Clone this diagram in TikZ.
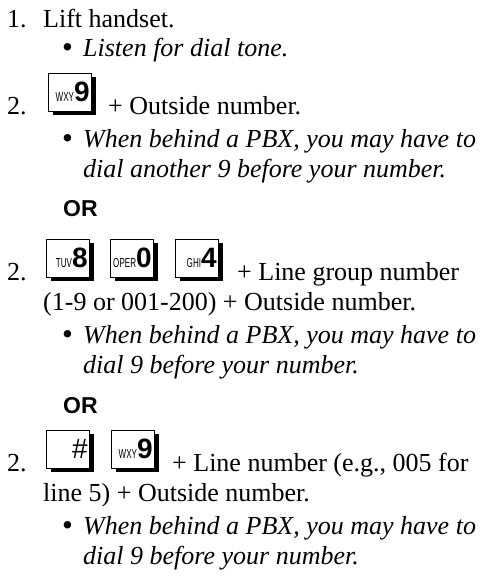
\documentclass[tikz,border=0pt]{standalone}
\usepackage{fontspec}
\setmainfont{Liberation Serif}
\newfontfamily\keyfont{Liberation Sans}
\newfontfamily\keytiny[FakeStretch=0.62]{Liberation Sans}
\usetikzlibrary{shadows}

\tikzset{
  txt/.style={anchor=base west, inner sep=0pt, font={\fontsize{26}{30}\selectfont}},
  note/.style={txt, font={\fontsize{26}{30}\selectfont\itshape}},
  dot/.style={anchor=base west, inner sep=0pt, yshift=-1.5pt, font={\fontsize{31}{31}\selectfont}},
  orword/.style={anchor=base west, inner sep=0pt, font={\keyfont\bfseries\fontsize{23}{26}\selectfont}},
  keycap/.style={draw, line width=1.3pt, fill=white, anchor=south west,
    minimum width=43pt, minimum height=38pt, inner sep=0pt, text width=39pt, align=right,
    drop shadow={shadow xshift=4pt, shadow yshift=-4pt, fill=black, opacity=1}},
}
\newcommand{\klet}[1]{{\keytiny\fontsize{13}{13}\selectfont #1}}
\newcommand{\kdig}[1]{{\keyfont\bfseries\fontsize{28}{28}\selectfont #1}}

\begin{document}
\begin{tikzpicture}[x=1pt,y=-1pt]
  \useasboundingbox (0,0) rectangle (489,579);
  % step 1
  \node[txt] (onenum) at (7,27) {1.};
  \node[txt] (onetxt) at (43,27) {Lift handset.};
  \node[dot] (onedot) at (62,56) {\textbullet};
  \node[note] (onenote) at (83,56) {Listen for dial tone.};
  % step 2, first way
  \node[txt] (anum) at (7,114) {2.};
  \node[keycap] (akey) at (48,112) {\klet{WXY}\kdig{9}};
  \node[txt] (atxt) at (108,114) {+ Outside number.};
  \node[dot] (adot) at (62,147) {\textbullet};
  \node[note] (anotea) at (83,147) {When behind a PBX, you may have to};
  \node[note] (anoteb) at (83,177) {dial another 9 before your number.};
  \node[orword] (ora) at (63,216) {OR};
  % step 2, second way
  \node[txt] (bnum) at (7,280) {2.};
  \node[keycap] (bkeya) at (46,278) {\klet{TUV}\kdig{8}};
  \node[keycap] (bkeyb) at (110,278) {\klet{OPER}\kdig{0}};
  \node[keycap] (bkeyc) at (175,278) {\klet{GHI}\kdig{4}};
  \node[txt] (btxta) at (237,280) {+ Line group number};
  \node[txt] (btxtb) at (43,310) {(1-9 or 001-200) + Outside number.};
  \node[dot] (bdot) at (62,343) {\textbullet};
  \node[note] (bnotea) at (83,343) {When behind a PBX, you may have to};
  \node[note] (bnoteb) at (83,373) {dial 9 before your number.};
  \node[orword] (orb) at (63,413) {OR};
  % step 2, third way
  \node[txt] (cnum) at (7,471) {2.};
  \node[keycap] (ckeya) at (46,469) {{\keyfont\fontsize{28}{28}\selectfont\#}};
  \node[keycap] (ckeyb) at (111,469) {\klet{WXY}\kdig{9}};
  \node[txt] (ctxta) at (172,471) {+ Line number (e.g., 005 for};
  \node[txt] (ctxtb) at (43,501) {line 5) + Outside number.};
  \node[dot] (cdot) at (62,534) {\textbullet};
  \node[note] (cnotea) at (83,534) {When behind a PBX, you may have to};
  \node[note] (cnoteb) at (83,564) {dial 9 before your number.};
\end{tikzpicture}
\end{document}
